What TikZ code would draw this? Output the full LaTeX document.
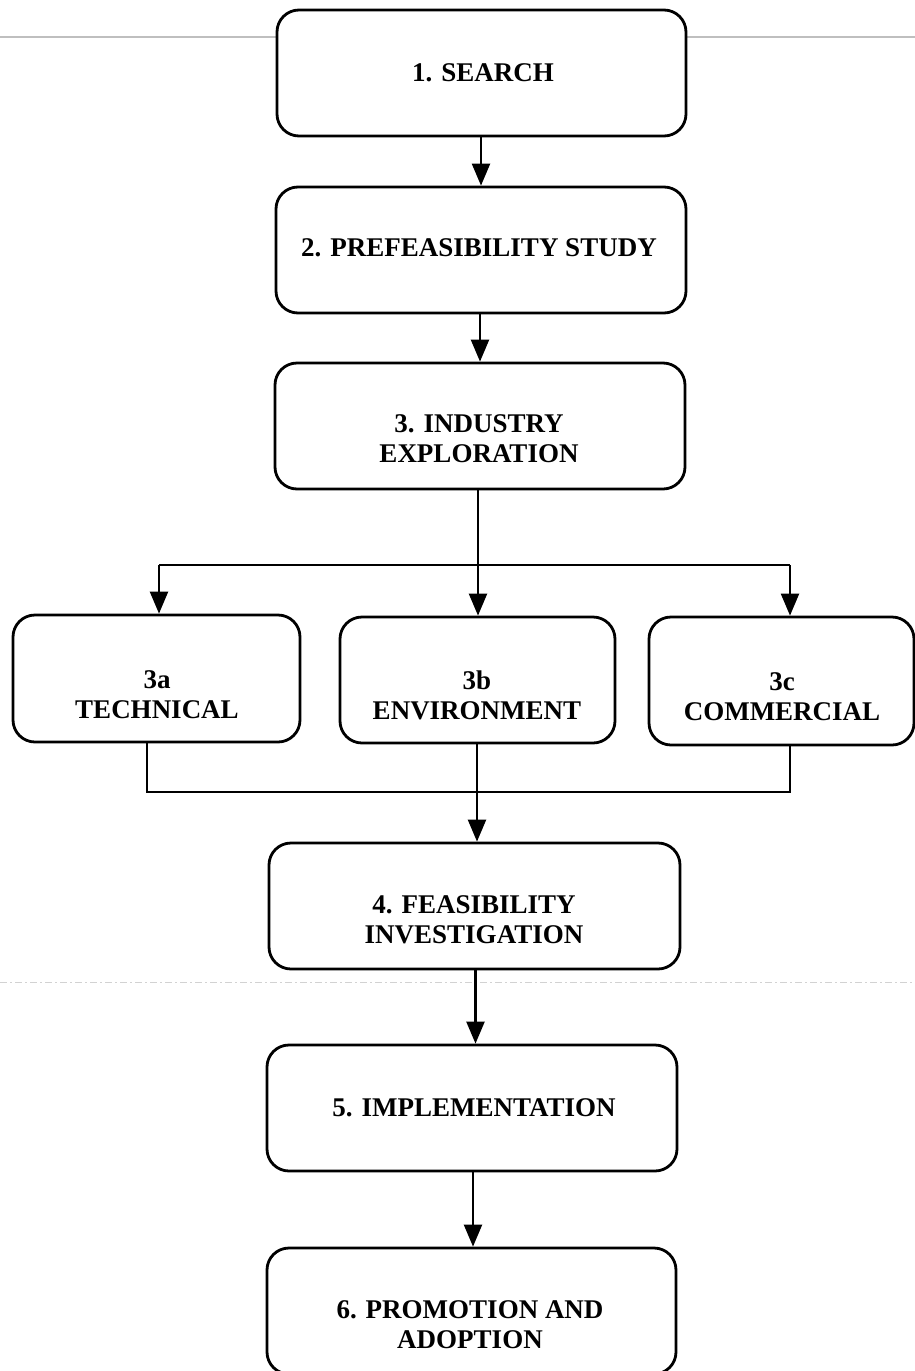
\documentclass[tikz,border=0pt]{standalone}
\usepackage{fontspec}
\setmainfont{Liberation Serif}
\usetikzlibrary{arrows.meta}
\tikzset{
  box/.style={draw, line width=2.8pt, rounded corners=22pt, fill=white, inner sep=0pt},
  txt/.style={align=center, inner sep=0pt, font=\bfseries\fontsize{27}{30}\selectfont},
  conn/.style={line width=2.3pt},
  arr/.style={line width=2.3pt, -{Triangle[length=22pt,width=18pt]}},
  scanline/.style={gray!50, line width=1.6pt},
  scandash/.style={gray!35, line width=0.9pt, dash pattern=on 7pt off 3pt on 2pt off 3pt}
}
\begin{document}
\begin{tikzpicture}[x=1pt,y=-1pt]
\useasboundingbox (0,0) rectangle (915,1371);
\draw[scanline] (0,37) -- (915,37);
\draw[scandash] (0,982) -- (915,982);

% boxes
\node[box, minimum width=409pt, minimum height=126pt] (b1) at (481.5,73) {};
\node[box, minimum width=410pt, minimum height=126pt] (b2) at (481,250) {};
\node[box, minimum width=410pt, minimum height=126pt] (b3) at (480,426) {};
\node[box, minimum width=287pt, minimum height=127pt] (b3a) at (156.5,678.5) {};
\node[box, minimum width=275pt, minimum height=126pt] (b3b) at (477.5,680) {};
\node[box, minimum width=265pt, minimum height=128pt] (b3c) at (781.5,681) {};
\node[box, minimum width=411pt, minimum height=126pt] (b4) at (474.5,906) {};
\node[box, minimum width=410pt, minimum height=126pt] (b5) at (472,1108) {};
\node[box, minimum width=409pt, minimum height=126pt] (b6) at (471.5,1311) {};

% texts
\node[txt] (t1) at (483,72.5) {1. SEARCH};
\node[txt] (t2) at (479,247.5) {2. PREFEASIBILITY STUDY};
\node[txt] (t3) at (479,439) {3. INDUSTRY\\EXPLORATION};
\node[txt] (t3a) at (157,695) {3a\\TECHNICAL};
\node[txt] (t3b) at (477,695) {3b\\ENVIRONMENT};
\node[txt] (t3c) at (782,697) {3c\\COMMERCIAL};
\node[txt] (t4) at (474,919.5) {4. FEASIBILITY\\INVESTIGATION};
\node[txt] (t5) at (474,1107.5) {5. IMPLEMENTATION};
\node[txt] (t6) at (470,1325) {6. PROMOTION AND\\ADOPTION};

% connectors
\coordinate (c12) at (481,0);
\draw[arr] (c12 |- b1.south) -- (c12 |- b2.north);
\coordinate (c23) at (480,0);
\draw[arr] (c23 |- b2.south) -- (c23 |- b3.north);

\coordinate (sp) at (478,565);
\coordinate (sl) at (159,565);
\coordinate (sr) at (790,565);
\draw[conn] (sp |- b3.south) -- (sp);
\draw[conn] (sl) -- (sr);
\draw[arr] (sp) -- (sp |- b3b.north);
\draw[arr] (sl) -- (sl |- b3a.north);
\draw[arr] (sr) -- (sr |- b3c.north);

\coordinate (ml) at (147,792);
\coordinate (mm) at (477,792);
\coordinate (mr) at (790,792);
\draw[conn] (ml |- b3a.south) -- (ml) -- (mr) -- (mr |- b3c.south);
\draw[conn] (mm |- b3b.south) -- (mm);
\draw[arr] (mm) -- (mm |- b4.north);

\coordinate (c45) at (475.5,0);
\draw[arr] (c45 |- b4.south) -- (c45 |- b5.north);
\coordinate (c56) at (473,0);
\draw[arr] (c56 |- b5.south) -- (c56 |- b6.north);
\end{tikzpicture}
\end{document}
